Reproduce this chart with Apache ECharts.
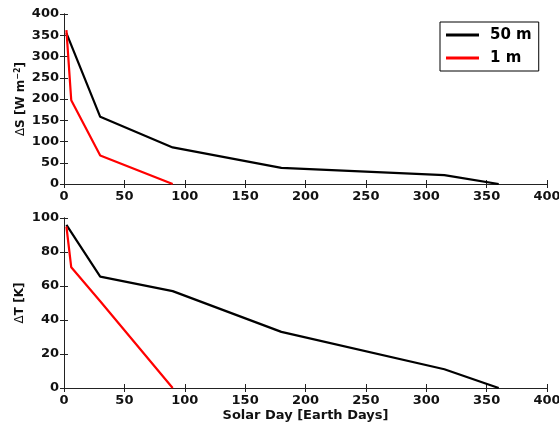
<!DOCTYPE html>
<html><head><meta charset="utf-8">
<script src="https://cdn.jsdelivr.net/npm/echarts@6/dist/echarts.min.js"></script>
<style>html,body{margin:0;padding:0;background:#fff}#c{width:559px;height:424px}</style>
</head><body><div id="c"></div>
<script>
const xTicks = [0, 50, 100, 150, 200, 250, 300, 350, 400];
const days50 = [2, 30, 90, 180, 315, 360];
const dS50 = [355, 158, 86, 38, 21, 0];
const dT50 = [96, 65.5, 57, 33, 11, 0];
const days1 = [2, 6, 30, 90];
const dS1 = [362, 197, 67, 0];
const dT1 = [95, 71, 51, 0];
const seriesNames = ['50 m', '1 m'];

const FONT = 'DejaVu Sans';
const axisColor = '#222';
const lbl = {fontFamily: FONT, fontWeight: 'bold', fontSize: 13, color: '#111'};

function xAxisPair(gi, showName) {
  return [{
    type: 'value', gridIndex: gi, min: 0, max: 400, interval: 50,
    axisLine: {lineStyle: {color: axisColor}}, axisTick: {inside: true, length: 4, lineStyle: {color: axisColor}},
    splitLine: {show: false}, axisLabel: Object.assign({margin: 6}, lbl),
    name: showName ? 'Solar Day [Earth Days]' : '', nameLocation: 'middle', nameGap: 21,
    nameTextStyle: {fontFamily: FONT, fontWeight: 'bold', fontSize: 13, color: '#111'}
  }, {
    type: 'value', gridIndex: gi, position: 'top', min: 0, max: 400, interval: 50,
    axisLine: {lineStyle: {color: axisColor}}, axisTick: {inside: true, length: 4, lineStyle: {color: axisColor}},
    splitLine: {show: false}, axisLabel: {show: false}
  }];
}
function yAxisPair(gi, max, interval, name, gap) {
  return [{
    type: 'value', gridIndex: gi, min: 0, max: max, interval: interval,
    axisLine: {show: true, lineStyle: {color: axisColor}}, axisTick: {show: true, inside: true, length: 4, lineStyle: {color: axisColor}},
    splitLine: {show: false}, axisLabel: Object.assign({margin: 5}, lbl),
    name: name, nameLocation: 'middle', nameGap: gap, nameMoveOverlap: false,
    nameTextStyle: {fontFamily: FONT, fontWeight: 'bold', fontSize: 12, color: '#111',
      rich: {a: {fontFamily: FONT, fontWeight: 'bold', fontSize: 12, color: '#111'},
             d: {fontFamily: FONT, fontWeight: 'normal', fontSize: 12, color: '#111'},
             s: {fontFamily: FONT, fontWeight: 'bold', fontSize: 8, color: '#111', verticalAlign: 'top', padding: [0, 0, 6, 0]}}}
  }, {
    type: 'value', gridIndex: gi, position: 'right', min: 0, max: max, interval: interval,
    axisLine: {show: true, lineStyle: {color: axisColor}}, axisTick: {show: true, inside: true, length: 4, lineStyle: {color: axisColor}},
    splitLine: {show: false}, axisLabel: {show: false}
  }];
}

const chart = echarts.init(document.getElementById('c'), null, {renderer: 'canvas'});
const xa = [...xAxisPair(0, false), ...xAxisPair(1, true)];
const ya = [...yAxisPair(0, 400, 50, '{d|Δ}{a|S [W m}{s|−2}{a|]}', 36), ...yAxisPair(1, 100, 20, '{d|Δ}{a|T [K]}', 38)];
const pairs = (xs, ys) => xs.map((x, i) => [x, ys[i]]);
const lineS = (name, color, xi, yi, data) => ({
  name, type: 'line', xAxisIndex: xi, yAxisIndex: yi, data, showSymbol: false, symbol: 'none',
  lineStyle: {color, width: 2.2}, itemStyle: {color}, animation: false, silent: true
});
chart.setOption({
  animation: false,
  grid: [
    {left: 64, right: 12, top: 14, height: 170, containLabel: false, outerBoundsMode: 'none'},
    {left: 64, right: 12, top: 218, height: 170, containLabel: false, outerBoundsMode: 'none'}
  ],
  xAxis: xa,
  yAxis: ya,
  legend: {
    data: seriesNames, orient: 'vertical', left: 440, top: 22,
    icon: 'rect', itemWidth: 33, itemHeight: 3, itemGap: 7,
    padding: [5, 7, 5, 6], borderColor: '#000', borderWidth: 1, borderRadius: 0, backgroundColor: '#fff',
    textStyle: {fontFamily: FONT, fontWeight: 'bold', fontSize: 15, color: '#000', lineHeight: 16, padding: [0, 0, 0, 6]}
  },
  series: [
    lineS(seriesNames[0], '#000', 0, 0, pairs(days50, dS50)),
    lineS(seriesNames[1], '#f00', 0, 0, pairs(days1, dS1)),
    lineS(seriesNames[0], '#000', 2, 2, pairs(days50, dT50)),
    lineS(seriesNames[1], '#f00', 2, 2, pairs(days1, dT1))
  ]
});
</script></body></html>
